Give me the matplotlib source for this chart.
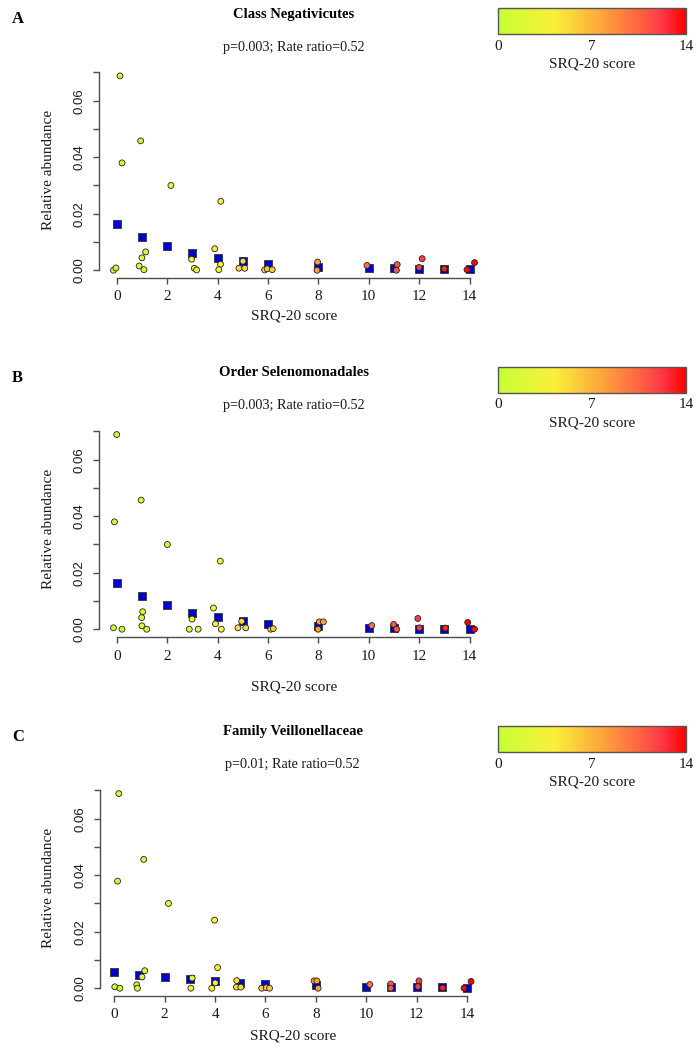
import numpy as np
import matplotlib
matplotlib.use("Agg")
import matplotlib.pyplot as plt
from matplotlib.colors import LinearSegmentedColormap, Normalize
from matplotlib.colorbar import ColorbarBase

letters = ["A", "B", "C"]
titles = ["Class Negativicutes", "Order Selenomonadales", "Family Veillonellaceae"]
stats = ["p=0.003; Rate ratio=0.52", "p=0.003; Rate ratio=0.52", "p=0.01; Rate ratio=0.52"]

# fitted mean abundance per SRQ-20 score (blue squares)
mean_scores = [0, 1, 2, 3, 4, 5, 6, 8, 10, 11, 12, 13, 14]
mean_a = [0.0162, 0.0119, 0.0085, 0.0061, 0.0044, 0.0032, 0.0021, 0.0013, 0.0008, 0.0008, 0.0006, 0.0006, 0.0003]
mean_b = [0.0162, 0.0118, 0.0084, 0.0059, 0.0043, 0.0030, 0.0020, 0.0012, 0.0005, 0.0006, 0.0002, 0.0002, 0.0000]
mean_c = [0.0059, 0.0046, 0.0040, 0.0032, 0.0026, 0.0020, 0.0015, 0.0011, 0.0006, 0.0005, 0.0004, 0.0004, 0.0001]

# individual subjects: score, jittered x, relative abundance
a_score = [0, 0, 0, 0, 1, 1, 1, 1, 1, 2, 3, 3, 3, 4, 4, 4, 4, 5, 5, 5, 6, 6, 6, 8, 8, 10, 11, 11, 12, 12, 13, 14, 14]
a_x = [0.13, 0.21, -0.13, -0.03, 0.95, 0.89, 1.00, 1.08, 1.15, 2.15, 2.97, 3.08, 3.17, 3.89, 4.13, 4.12, 4.05,
       4.85, 5.01, 5.08, 5.87, 5.97, 6.17, 7.97, 7.95, 9.93, 11.13, 11.10, 12.12, 12.00, 13.00, 13.90, 14.20]
a_y = [0.0688, 0.0380, 0.0000, 0.0008, 0.0458, 0.0015, 0.0044, 0.0002, 0.0065, 0.0300, 0.0039, 0.0007, 0.0001,
       0.0076, 0.0244, 0.0021, 0.0002, 0.0007, 0.0032, 0.0007, 0.0001, 0.0005, 0.0002, 0.0029, 0.0000, 0.0017,
       0.0020, 0.0000, 0.0041, 0.0010, 0.0005, 0.0002, 0.0027]

b_score = [0, 0, 0, 0, 1, 1, 1, 1, 1, 2, 3, 3, 3, 4, 4, 4, 4, 5, 5, 5, 6, 6, 8, 8, 8, 10, 11, 11, 12, 12, 13, 14, 14]
b_x = [0.00, -0.09, -0.13, 0.21, 0.97, 0.99, 1.03, 1.00, 1.19, 2.01, 2.99, 2.88, 3.23, 3.84, 4.11, 3.92, 4.15,
       4.81, 4.96, 5.12, 6.11, 6.21, 8.04, 8.20, 7.99, 10.12, 10.99, 11.11, 11.95, 12.01, 13.04, 13.93, 14.20]
b_y = [0.0689, 0.0380, 0.0005, 0.0000, 0.0457, 0.0041, 0.0062, 0.0012, 0.0000, 0.0300, 0.0036, 0.0000, 0.0000,
       0.0075, 0.0241, 0.0019, 0.0000, 0.0005, 0.0028, 0.0005, 0.0000, 0.0002, 0.0026, 0.0026, 0.0000, 0.0013,
       0.0017, 0.0000, 0.0038, 0.0005, 0.0004, 0.0024, 0.0000]

c_score = [0, 0, 0, 0, 1, 1, 1, 1, 1, 2, 3, 3, 4, 4, 4, 4, 5, 5, 5, 6, 6, 6, 8, 8, 8, 10, 11, 11, 12, 12, 13, 14, 14]
c_x = [0.18, 0.13, 0.02, 0.22, 1.17, 1.21, 1.10, 0.89, 0.92, 2.15, 3.09, 3.04, 3.98, 4.10, 4.01, 3.87,
       4.86, 4.85, 5.02, 5.85, 6.03, 6.16, 7.93, 8.04, 8.09, 10.14, 10.97, 10.97, 12.09, 12.05, 13.03, 13.88, 14.16]
c_y = [0.0689, 0.0379, 0.0005, 0.0000, 0.0456, 0.0062, 0.0040, 0.0012, 0.0000, 0.0300, 0.0036, 0.0000,
       0.0241, 0.0073, 0.0019, 0.0000, 0.0027, 0.0004, 0.0004, 0.0000, 0.0002, 0.0000, 0.0026, 0.0026, 0.0000,
       0.0013, 0.0015, 0.0000, 0.0026, 0.0006, 0.0001, 0.0000, 0.0024]

panels = [
    (a_score, a_x, a_y, mean_a),
    (b_score, b_x, b_y, mean_b),
    (c_score, c_x, c_y, mean_c),
]

cmap = LinearSegmentedColormap.from_list(
    "srq", [(0.0, "#c6ff35"), (0.3, "#fbef3a"), (0.55, "#fda63c"),
            (0.75, "#ff6440"), (0.87, "#ff3a48"), (1.0, "#ff0000")])
norm = Normalize(0, 14)

serif = ["Liberation Serif", "DejaVu Serif"]
sans = ["Liberation Sans", "DejaVu Sans"]
txt = "#1a1a1a"
axcol = "#4d4d4d"

W, H = 696, 1050
fig = plt.figure(figsize=(W / 100, H / 100), dpi=100)


def rect(left, top, w, h):
    return [left / W, 1 - (top + h) / H, w / W, h / H]


def ftext(x, y, s, **kw):
    fig.text(x / W, 1 - y / H, s, **kw)


axis_line = [278, 637, 996]
left_px = [99, 99, 100]
xlab_px = [316, 687, 1036]
cbar_top = [8, 367, 726]
ppu_x = 25.2
ppu_y = 56.5 / 0.02

for i, (score, xs, ys, means) in enumerate(panels):
    allx = list(xs) + mean_scores
    ally = list(ys) + means
    xr = max(allx) - min(allx)
    yr = max(ally) - min(ally)
    xlim = (min(allx) - 0.04 * xr, max(allx) + 0.04 * xr)
    ylim = (min(ally) - 0.04 * yr, max(ally) + 0.04 * yr)
    w = (xlim[1] - xlim[0]) * ppu_x
    h = (ylim[1] - ylim[0]) * ppu_y
    top = axis_line[i] - h
    ax = fig.add_axes(rect(left_px[i], top, w, h))
    ax.set_xlim(xlim)
    ax.set_ylim(ylim)
    ax.patch.set_alpha(0)

    ax.scatter(mean_scores, means, marker="s", s=40, color="#0000cc",
               edgecolors="#333333", linewidths=0.6, zorder=2, clip_on=False)
    cols = cmap(norm(np.array(score)))
    ax.scatter(xs, ys, s=18, color=cols, edgecolors="#222222",
               linewidths=0.6, zorder=3, clip_on=False)

    for sp in ["top", "right"]:
        ax.spines[sp].set_visible(False)
    for sp in ["left", "bottom"]:
        ax.spines[sp].set_color(axcol)
        ax.spines[sp].set_linewidth(1.0)
    ax.spines["bottom"].set_bounds(0, 14)
    ax.spines["left"].set_bounds(0, 0.07)
    ax.set_xticks(range(0, 15, 2))
    ax.set_xticklabels([str(v) for v in range(0, 15, 2)])
    for lbl in ax.get_xticklabels():
        lbl.set_fontfamily(serif)
        lbl.set_fontsize(11)
        lbl.set_color(txt)
    yt = np.arange(0, 0.071, 0.01)
    ax.set_yticks(yt)
    ax.set_yticklabels(["0.00", "", "0.02", "", "0.04", "", "0.06", ""])
    for lbl in ax.get_yticklabels():
        lbl.set_fontfamily(sans)
        lbl.set_fontsize(9.5)
        lbl.set_color(txt)
        lbl.set_rotation(90)
        lbl.set_va("center")
    ax.tick_params(axis="both", length=4, width=1.0, color=axcol)
    ax.tick_params(axis="x", pad=5)
    ax.tick_params(axis="y", pad=6)

    cx = left_px[i] + w / 2
    ftext(cx, top - 54, titles[i], family=serif, fontsize=10.5, fontweight="bold",
          ha="center", va="center", color="black")
    ftext(cx, top - 21, stats[i], family=serif, fontsize=10.2, ha="center", va="center", color=txt)
    ftext(12, top - 49, letters[i], family=serif, fontsize=12, fontweight="bold",
          ha="left", va="center", color="black")
    ftext(cx, xlab_px[i], "SRQ-20 score", family=serif, fontsize=11, ha="center", va="center", color=txt)
    ftext(49, top + h / 2 - 3, "Relative abundance", family=serif, fontsize=11, rotation=90,
          ha="center", va="center", color=txt)

    # colour key
    cax = fig.add_axes(rect(498, cbar_top[i], 188, 26))
    cb = ColorbarBase(cax, cmap=cmap, norm=norm, orientation="horizontal")
    cb.outline.set_edgecolor("#555555")
    cb.outline.set_linewidth(1.0)
    cax.set_xticks([])
    for v in [0, 7, 14]:
        ftext(498 + v / 14 * 188, cbar_top[i] + 38, str(v), family=serif, fontsize=11,
              ha="center", va="center", color=txt)
    ftext(592, cbar_top[i] + 56, "SRQ-20 score", family=serif, fontsize=11,
          ha="center", va="center", color=txt)

fig.savefig("out.png", dpi=100)
